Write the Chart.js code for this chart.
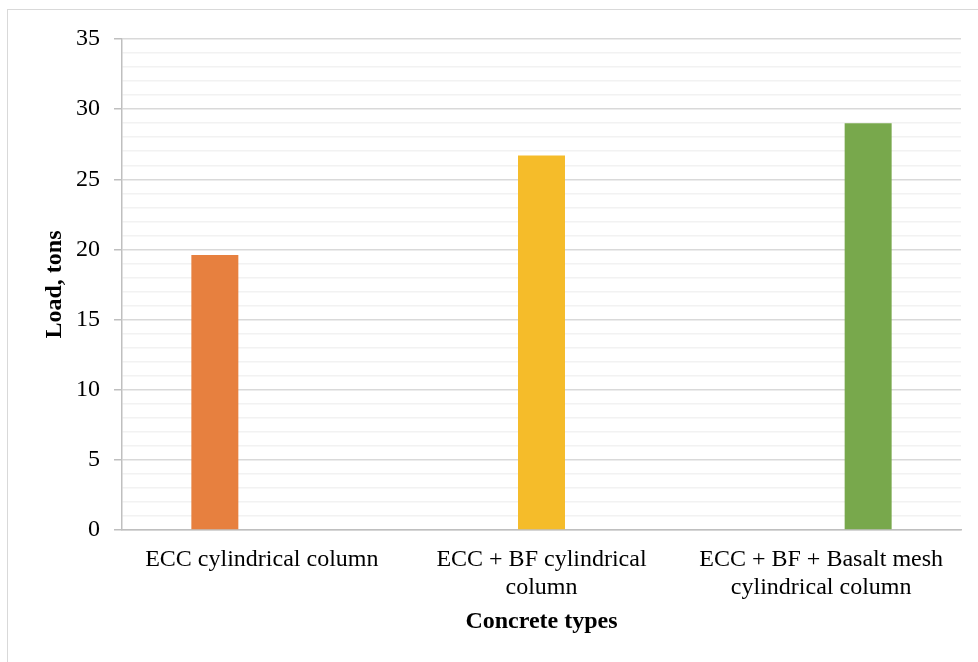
<!DOCTYPE html>
<html>
<head>
<meta charset="utf-8">
<script src="https://cdn.jsdelivr.net/npm/chart.js@4.4.1/dist/chart.umd.min.js"></script>
<style>
  html, body { margin: 0; padding: 0; background: #fff; }
  #wrap { position: relative; width: 978px; height: 662px; overflow: hidden; }
  #frame { position: absolute; left: 7px; top: 9px; width: 1000px; height: 700px;
           border-top: 1.5px solid #d9d9d9; border-left: 1.5px solid #d9d9d9; box-sizing: border-box; }
  canvas { position: absolute; left: 0; top: 0; }
</style>
</head>
<body>
<div id="wrap">
  <div id="frame"></div>
  <canvas id="chart" width="978" height="662"></canvas>
</div>
<script>
// Peak load of each cylindrical column type
const categories = [
  'ECC cylindrical column',
  ['ECC + BF cylindrical', 'column'],
  ['ECC + BF + Basalt mesh', 'cylindrical column']
];
const seriesNames = ['ECC', 'ECC + BF', 'ECC + BF + Basalt mesh'];
const eccLoad = [19.6, null, null];
const eccBfLoad = [null, 26.7, null];
const eccBfMeshLoad = [null, null, 29.0];
const yTicksMajor = [0, 5, 10, 15, 20, 25, 30, 35];

const colors = ['#E7803F', '#F5BC2A', '#78A84C'];
const serif = '"Liberation Serif", "Times New Roman", serif';

new Chart(document.getElementById('chart'), {
  type: 'bar',
  data: {
    labels: categories,
    datasets: [eccLoad, eccBfLoad, eccBfMeshLoad].map((d, i) => ({
      label: seriesNames[i],
      data: d,
      backgroundColor: colors[i],
      borderWidth: 0,
      barPercentage: 1,
      categoryPercentage: 0.504
    }))
  },
  options: {
    responsive: false,
    animation: false,
    layout: { padding: { left: 36, right: 17, top: 39, bottom: 22 } },
    plugins: { legend: { display: false }, tooltip: { enabled: false } },
    scales: {
      x: {
        grid: { display: false, drawTicks: false },
        border: { color: '#bfbfbf', width: 1.5 },
        ticks: { color: '#000', font: { family: serif, size: 24, lineHeight: 1.15 }, padding: 16, maxRotation: 0, autoSkip: false },
        title: { display: true, text: 'Concrete types', color: '#000',
                 font: { family: serif, size: 24, weight: 'bold' }, padding: { top: 4, bottom: 4 } },
        afterFit(s) { s.height = 110; }
      },
      y: {
        min: 0, max: 35,
        ticks: {
          stepSize: 1, autoSkip: false, color: '#000',
          font: { family: serif, size: 24 }, padding: 14,
          callback: v => yTicksMajor.includes(v) ? String(v) : ''
        },
        grid: {
          color: c => (c.tick && c.tick.value % 5 === 0) ? '#d9d9d9' : '#f2f2f2',
          lineWidth: 1.5,
          tickColor: c => (c.tick && c.tick.value % 5 === 0) ? '#bfbfbf' : 'rgba(0,0,0,0)',
          tickLength: 8
        },
        border: { color: '#bfbfbf', width: 1.5 },
        title: { display: true, text: 'Load, tons', color: '#000',
                 font: { family: serif, size: 24, weight: 'bold' }, padding: { top: 4, bottom: 4 } },
        afterFit(s) { s.width = 86; }
      }
    }
  }
});
</script>
</body>
</html>
